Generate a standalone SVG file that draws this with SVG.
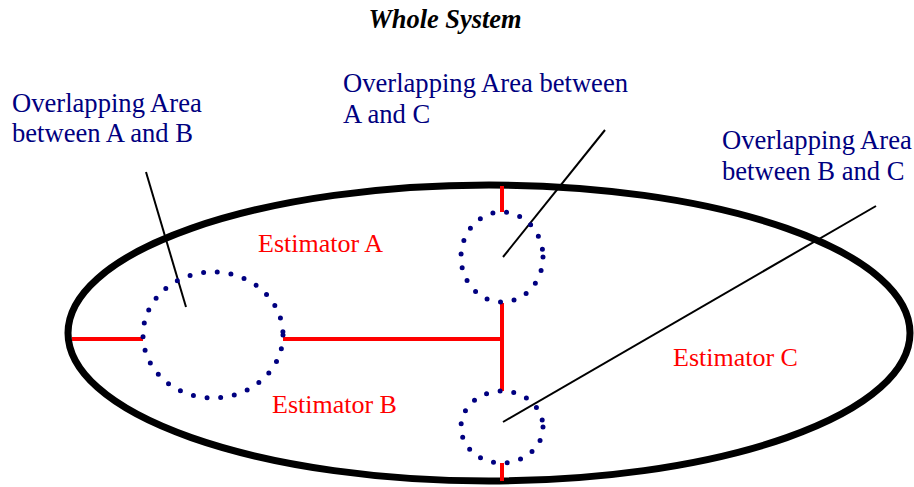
<svg xmlns="http://www.w3.org/2000/svg" width="914" height="487" viewBox="0 0 914 487">
<style>
.lbl{font-family:"Liberation Serif","Times New Roman",serif;font-size:26.6px;fill:#000080}
.est{font-family:"Liberation Serif","Times New Roman",serif;font-size:26px;fill:#ff0000}
.dots{fill:none;stroke:#000080;stroke-width:5;stroke-linecap:round;stroke-dasharray:0 13.8}
.red{stroke:#ff0000;stroke-width:4;fill:none}
.ptr{stroke:#000;stroke-width:2;fill:none}
</style>
<rect width="914" height="487" fill="#fff"/>
<text x="445" y="28" text-anchor="middle" style="font-family:'Liberation Serif','Times New Roman',serif;font-size:26.4px;font-weight:bold;font-style:italic">Whole System</text>
<g id="system">
<ellipse cx="489" cy="333" rx="421" ry="148" fill="none" stroke="#000" stroke-width="7"/>
</g>
<g id="connectors">
<line class="red" x1="72" y1="339" x2="143" y2="339"/>
<line class="red" x1="283" y1="339" x2="502" y2="339"/>
<line class="red" x1="502" y1="186" x2="502" y2="212"/>
<line class="red" x1="502" y1="303" x2="502" y2="391"/>
<line class="red" x1="502" y1="463" x2="502" y2="481"/>
<line class="ptr" x1="146" y1="172" x2="186" y2="307"/>
<line class="ptr" x1="605" y1="130" x2="503" y2="257"/>
<line class="ptr" x1="876" y1="206" x2="503" y2="422"/>
</g>
<g id="overlapAB">
<ellipse class="dots" cx="213" cy="335" rx="70" ry="63"/>
<text class="lbl" x="12" y="112">Overlapping Area</text>
<text class="lbl" x="12" y="142">between A and B</text>
</g>
<g id="overlapAC">
<ellipse class="dots" cx="502" cy="257" rx="41" ry="45"/>
<text class="lbl" x="343" y="92">Overlapping Area between</text>
<text class="lbl" x="343" y="123">A and C</text>
</g>
<g id="overlapBC">
<ellipse class="dots" cx="502" cy="427" rx="41" ry="36"/>
<text class="lbl" x="722" y="149">Overlapping Area</text>
<text class="lbl" x="722" y="180">between B and C</text>
</g>
<g id="estA"><text class="est" x="258" y="252">Estimator A</text></g>
<g id="estB"><text class="est" x="272" y="413">Estimator B</text></g>
<g id="estC"><text class="est" x="673" y="366">Estimator C</text></g>
</svg>
